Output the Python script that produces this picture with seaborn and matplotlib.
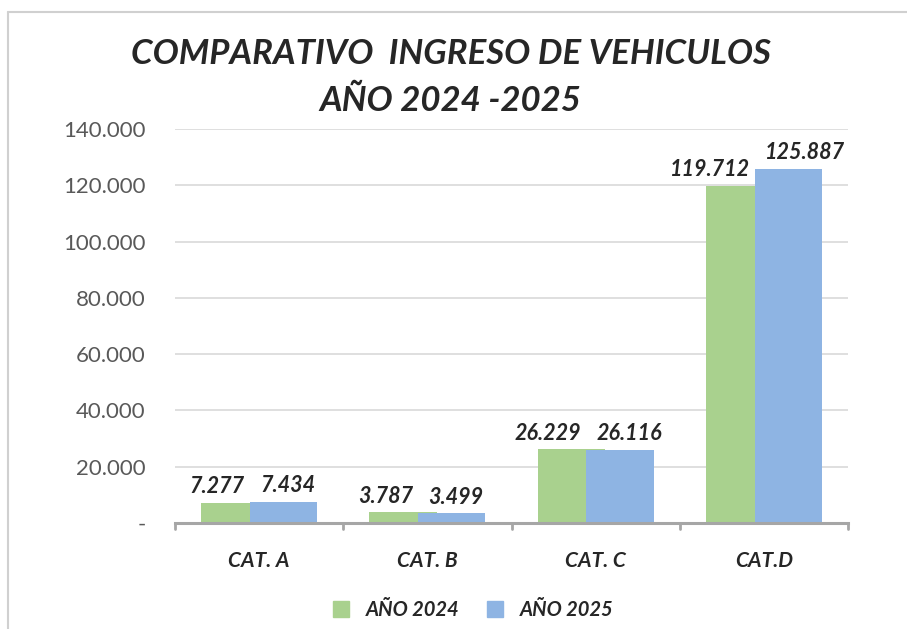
import pandas as pd
import matplotlib.pyplot as plt
import seaborn as sns
from matplotlib.lines import Line2D

# data
categorias = ['CAT. A', 'CAT. B', 'CAT. C', 'CAT.D']
anio_2024 = [7277, 3787, 26229, 119712]
anio_2025 = [7434, 3499, 26116, 125887]
series = ['AÑO 2024', 'AÑO 2025']
yticks = [0, 20000, 40000, 60000, 80000, 100000, 120000, 140000]
colores = ['#A9D18E', '#8EB4E3']

df = pd.DataFrame({
    'cat': categorias * 2,
    'valor': anio_2024 + anio_2025,
    'serie': [series[0]] * 4 + [series[1]] * 4,
})

sns.set_theme(style='white')
plt.rcParams['font.family'] = ['Lato', 'DejaVu Sans']

fig = plt.figure(figsize=(9.07, 6.29), dpi=100)
ax = fig.add_axes([0.193, 0.1685, 0.742, 0.6265])

sns.barplot(data=df, x='cat', y='valor', hue='serie', palette=colores,
            width=0.58, saturation=1, ax=ax, legend=False, zorder=2,
            linewidth=0)

# excel-style overlap: widen bars around their centers
bw = 0.4
for p in ax.patches:
    c = p.get_x() + p.get_width() / 2
    p.set_x(c - bw / 2)
    p.set_width(bw)

ax.set_ylim(0, 140000)
ax.set_xlim(-0.5, 3.5)
ax.set_yticks(yticks)
ax.set_yticklabels(['-' if v == 0 else f'{v:,}'.replace(',', '.') for v in yticks],
                   color='#595959', fontsize=16)
ax.set_xticks(range(4))
ax.set_xticklabels(categorias, fontsize=15, fontweight='bold', style='italic',
                   color='#262626')
ax.tick_params(axis='x', length=0, pad=20)
ax.tick_params(axis='y', length=0, pad=21)
ax.set_xlabel('')
ax.set_ylabel('')
ax.yaxis.grid(True, color='#d9d9d9', linewidth=1.2, zorder=0)
for s in ['left', 'right', 'top']:
    ax.spines[s].set_visible(False)
ax.spines['bottom'].set_color('#a6a6a6')
ax.spines['bottom'].set_linewidth(2.2)
ax.spines['bottom'].set_zorder(3)

# category boundary ticks below axis
for xb in [-0.5, 0.5, 1.5, 2.5, 3.5]:
    ax.plot([xb, xb], [0, -2000], color='#a6a6a6', lw=2, clip_on=False, zorder=3)

# value labels
for i in range(4):
    frontera = i + 0.145 - bw / 2
    ax.text(frontera - 0.03, anio_2024[i] + 2000, f'{anio_2024[i]:,}'.replace(',', '.'),
            ha='right', va='bottom', fontsize=15.5, fontweight='bold', style='italic',
            color='#262626')
    ax.text(frontera + 0.06, anio_2025[i] + 2000, f'{anio_2025[i]:,}'.replace(',', '.'),
            ha='left', va='bottom', fontsize=15.5, fontweight='bold', style='italic',
            color='#262626')

fig.text(0.497, 0.914, 'COMPARATIVO  INGRESO DE VEHICULOS', ha='center', va='center',
         fontsize=25, fontweight='bold', style='italic', color='#262626')
fig.text(0.497, 0.84, 'AÑO 2024 -2025', ha='center', va='center',
         fontsize=25, fontweight='bold', style='italic', color='#262626')

handles = [Line2D([0], [0], marker='s', linestyle='', markersize=12,
                  markerfacecolor=c, markeredgecolor=c) for c in colores]
fig.legend(handles, series, loc='center', bbox_to_anchor=(0.515, 0.03), ncol=2,
           frameon=False, prop={'size': 14.5, 'weight': 'bold', 'style': 'italic'},
           handletextpad=0.2, columnspacing=0.8)

# chart frame
fig.add_artist(Line2D([8 / 907, 8 / 907], [0, 1 - 12 / 629], color='#d0d0d0', lw=1.5))
fig.add_artist(Line2D([8 / 907, 1], [1 - 12 / 629, 1 - 12 / 629], color='#d0d0d0', lw=1.5))

fig.savefig('out.png', dpi=100)
